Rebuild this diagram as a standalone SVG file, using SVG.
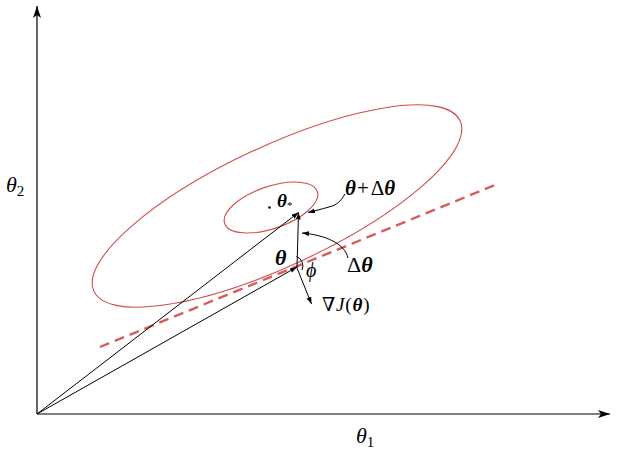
<svg xmlns="http://www.w3.org/2000/svg" width="619" height="457" viewBox="0 0 619 457">
<style>
.ax{stroke:#000;stroke-width:1.2;fill:none}
.vec{stroke:#000;stroke-width:1;fill:none}
.ell{stroke:#d24c4c;stroke-width:1.1;fill:none}
.dash{stroke:#d85c5c;stroke-width:2.4;fill:none;stroke-dasharray:10 6}
text{font-family:"Liberation Serif","DejaVu Serif",serif;fill:#000}
.it{font-style:italic}
.bi{font-style:italic;font-weight:bold}
</style>
<defs>
<marker id="ah" markerUnits="userSpaceOnUse" markerWidth="14" markerHeight="10" refX="12" refY="4" orient="auto">
<path d="M0,0 L12,4 L0,8 L3,4 Z" fill="#000"/>
</marker>
<marker id="sh" markerUnits="userSpaceOnUse" markerWidth="9" markerHeight="6" refX="7" refY="2.5" orient="auto">
<path d="M0,0 L7,2.5 L0,5 Z" fill="#000"/>
</marker>
</defs>
<g id="axes">
<line class="ax" x1="37" y1="414" x2="37" y2="6" marker-end="url(#ah)"/>
<line class="ax" x1="37" y1="414" x2="610" y2="414" marker-end="url(#ah)"/>
<text class="it" x="6" y="192" font-size="22">θ<tspan font-style="normal" font-size="15" dy="4">2</tspan></text>
<text class="it" x="356" y="443" font-size="22">θ<tspan font-style="normal" font-size="15" dy="4">1</tspan></text>
</g>
<g id="contours">
<ellipse class="ell" cx="277" cy="206" rx="202" ry="60" transform="rotate(-25 277 206)"/>
<ellipse class="ell" cx="271" cy="207.5" rx="49" ry="21" transform="rotate(-19 271 207.5)"/>
</g>
<g id="tangent">
<line class="dash" x1="100" y1="347" x2="495" y2="185"/>
</g>
<g id="optimum">
<circle cx="269.5" cy="207.5" r="1.3" fill="#000"/>
<text class="bi" x="277" y="207" font-size="19">θ<tspan font-weight="normal" font-style="normal" font-size="11" dy="2">*</tspan></text>
</g>
<g id="connectors">
<line class="vec" x1="37" y1="414" x2="297" y2="267" marker-end="url(#sh)"/>
<line class="vec" x1="37" y1="414" x2="298.5" y2="212.5" marker-end="url(#sh)"/>
<line class="vec" x1="297" y1="268" x2="298.5" y2="212.5" marker-end="url(#sh)"/>
<line class="vec" x1="297" y1="268" x2="311.5" y2="304" marker-end="url(#sh)"/>
<path class="vec" d="M296.5,256.5 A10,10 0 0 1 302,270"/>
<path class="vec" d="M348,258 C345,244 326,235 302,233" marker-end="url(#sh)"/>
<path class="vec" d="M345,194 C340,202 337,205 329,207 C322,209 314,211 308,212.5" marker-end="url(#sh)"/>
</g>
<g id="labels">
<text class="bi" x="275" y="265" font-size="22">θ</text>
<text class="it" x="306" y="277" font-size="20">ϕ</text>
<text x="345" y="195" font-size="21"><tspan class="bi">θ</tspan><tspan dx="1">+</tspan><tspan dx="2">Δ</tspan><tspan class="bi">θ</tspan></text>
<text x="347" y="272" font-size="22">Δ<tspan class="bi">θ</tspan></text>
<text x="322" y="311" font-size="19" letter-spacing="0.8">∇<tspan class="it">J</tspan>(<tspan class="bi">θ</tspan>)</text>
</g>
</svg>
